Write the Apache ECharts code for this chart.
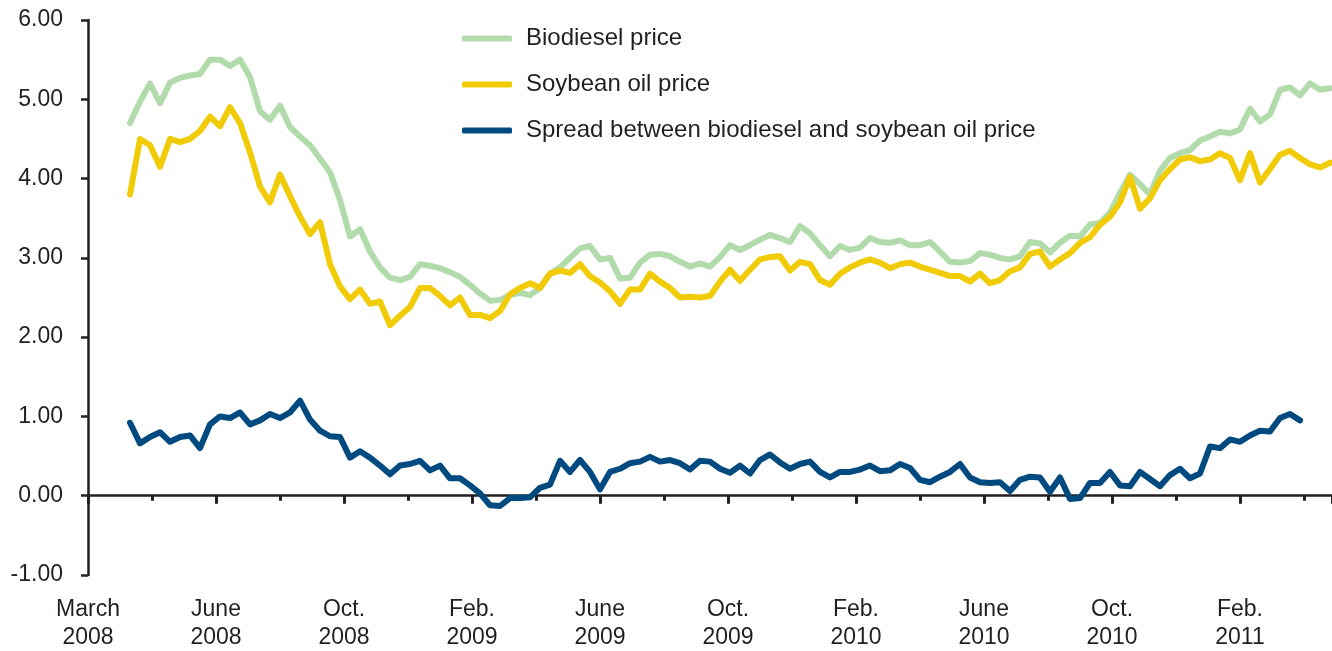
<!DOCTYPE html>
<html>
<head>
<meta charset="utf-8">
<script src="https://cdn.jsdelivr.net/npm/echarts@6/dist/echarts.min.js"></script>
<style>
  html, body { margin: 0; padding: 0; background: #fff; }
  #container { width: 1332px; height: 651px; }
</style>
</head>
<body>
<div id="container"></div>
<script>
// x positions are months after the axis origin (labelled March 2008), one sample every ~9.5 days
var sampleStart = 1.3125
var sampleStep = 0.3125

// dollars per gallon
var biodiesel = [
    4.70, 4.97, 5.20, 4.95, 5.21, 5.27, 5.30, 5.32, 5.50, 5.50,
    5.42, 5.50, 5.28, 4.85, 4.74, 4.92, 4.65, 4.53, 4.42, 4.25,
    4.08, 3.73, 3.27, 3.36, 3.08, 2.88, 2.75, 2.72, 2.76, 2.92,
    2.90, 2.87, 2.82, 2.76, 2.66, 2.55, 2.46, 2.47, 2.53, 2.56,
    2.53, 2.62, 2.80, 2.88, 3.00, 3.12, 3.15, 2.98, 3.00, 2.74,
    2.75, 2.94, 3.04, 3.05, 3.02, 2.95, 2.89, 2.93, 2.89, 3.01,
    3.16, 3.10, 3.16, 3.23, 3.29, 3.25, 3.20, 3.40, 3.31, 3.16,
    3.02, 3.15, 3.10, 3.13, 3.25, 3.20, 3.19, 3.22, 3.16, 3.16,
    3.20, 3.08, 2.95, 2.94, 2.96, 3.06, 3.04, 3.00, 2.98, 3.02,
    3.20, 3.18, 3.07, 3.19, 3.28, 3.27, 3.42, 3.44, 3.57, 3.82,
    4.05, 3.93, 3.80, 4.10, 4.26, 4.32, 4.36, 4.48, 4.53, 4.59,
    4.57, 4.62, 4.88, 4.72, 4.81, 5.12, 5.15, 5.05, 5.20, 5.12,
    5.14,
]

var soybean = [
    3.80, 4.50, 4.42, 4.15, 4.50, 4.46, 4.50, 4.60, 4.78, 4.66,
    4.90, 4.70, 4.33, 3.90, 3.70, 4.05, 3.78, 3.52, 3.30, 3.45,
    2.92, 2.64, 2.48, 2.60, 2.42, 2.45, 2.15, 2.27, 2.38, 2.62,
    2.62, 2.52, 2.40, 2.50, 2.28, 2.28, 2.24, 2.33, 2.54, 2.62,
    2.68, 2.62, 2.80, 2.84, 2.81, 2.92, 2.77, 2.69, 2.58, 2.42,
    2.60, 2.60, 2.80, 2.70, 2.62, 2.50, 2.51, 2.50, 2.52, 2.70,
    2.85, 2.71, 2.85, 2.98, 3.01, 3.02, 2.84, 2.95, 2.92, 2.72,
    2.66, 2.80, 2.88, 2.94, 2.98, 2.94, 2.87, 2.92, 2.94, 2.89,
    2.85, 2.81, 2.77, 2.77, 2.70, 2.80, 2.68, 2.72, 2.83, 2.88,
    3.05, 3.08, 2.89, 2.98, 3.06, 3.19, 3.26, 3.42, 3.52, 3.70,
    4.02, 3.62, 3.75, 3.98, 4.12, 4.24, 4.27, 4.22, 4.24, 4.32,
    4.26, 3.98, 4.32, 3.95, 4.12, 4.30, 4.35, 4.26, 4.18, 4.14,
    4.20,
]

var spread = [
    0.92, 0.66, 0.74, 0.80, 0.68, 0.74, 0.76, 0.60, 0.90, 1.00,
    0.98, 1.05, 0.90, 0.95, 1.03, 0.98, 1.05, 1.20, 0.96, 0.82,
    0.75, 0.74, 0.48, 0.56, 0.48, 0.38, 0.27, 0.38, 0.40, 0.44,
    0.32, 0.38, 0.22, 0.22, 0.13, 0.03, -0.12, -0.13, -0.03, -0.03,
    -0.02, 0.10, 0.14, 0.44, 0.30, 0.45, 0.30, 0.08, 0.30, 0.34,
    0.41, 0.43, 0.49, 0.43, 0.45, 0.41, 0.33, 0.44, 0.43, 0.34,
    0.29, 0.38, 0.28, 0.45, 0.52, 0.42, 0.34, 0.40, 0.43, 0.30,
    0.23, 0.30, 0.30, 0.33, 0.38, 0.31, 0.32, 0.40, 0.35, 0.20,
    0.17, 0.24, 0.30, 0.40, 0.23, 0.17, 0.16, 0.17, 0.06, 0.20,
    0.24, 0.23, 0.05, 0.23, -0.04, -0.03, 0.16, 0.16, 0.30, 0.13,
    0.12, 0.30, 0.21, 0.12, 0.26, 0.34, 0.22, 0.28, 0.62, 0.60,
    0.71, 0.68, 0.76, 0.82, 0.81, 0.98, 1.03, 0.95,
]

var seriesNames = [
    'Biodiesel price',
    'Soybean oil price',
    'Spread between biodiesel and soybean oil price',
]

// one label every 4 months, starting at the axis origin
var monthLabels = [
    'March\n2008', 'June\n2008', 'Oct.\n2008', 'Feb.\n2009', 'June\n2009',
    'Oct.\n2009', 'Feb.\n2010', 'June\n2010', 'Oct.\n2010', 'Feb.\n2011',
]

var toPoints = function (values) {
    var res = []
    for (var i = 0; i < values.length; i++) {
        res.push([sampleStart + i * sampleStep, values[i]])
    }
    return res
}

var chartInit = function () {
    var dom = document.getElementById('container')
    var myChart = echarts.init(dom, null, { renderer: 'canvas' })

    var ink = '#231f20'
    var font = "'Liberation Sans', Arial, Helvetica, sans-serif"

    var option = {
        animation: false,
        textStyle: { fontFamily: font, color: ink },
        grid: {
            left: 88, right: 0, top: 20, bottom: 76,
            containLabel: false,
            outerBoundsMode: 'none',
        },
        legend: {
            orient: 'vertical',
            left: 457,
            top: 21,
            itemWidth: 50,
            itemHeight: 6,
            itemGap: 21,
            icon: 'roundRect',
            textStyle: {
                fontFamily: font,
                fontSize: 24,
                lineHeight: 25,
                color: ink,
                padding: [0, 0, 0, 9],
            },
            data: seriesNames,
        },
        xAxis: [
            {
                // axis line at zero with the ticks
                type: 'value',
                min: 0,
                max: 38.875,
                interval: 4,
                axisLine: { show: true, onZero: true, lineStyle: { color: ink, width: 2.5 } },
                axisTick: { show: true, length: 8, lineStyle: { color: ink, width: 3 } },
                minorTick: { show: true, splitNumber: 2, length: 5, lineStyle: { color: ink, width: 3 } },
                axisLabel: { show: false },
                splitLine: { show: false },
                minorSplitLine: { show: false },
            },
            {
                // labels only, at the bottom of the plot
                type: 'value',
                position: 'bottom',
                min: 0,
                max: 38.875,
                interval: 4,
                axisLine: { show: false, onZero: false },
                axisTick: { show: false },
                splitLine: { show: false },
                axisLabel: {
                    show: true,
                    margin: 21,
                    fontFamily: font,
                    fontSize: 23,
                    lineHeight: 28,
                    color: ink,
                    showMaxLabel: false,
                    formatter: function (val) {
                        var idx = Math.round(val / 4)
                        if (Math.abs(val - idx * 4) > 0.01) {
                            return ''
                        }
                        return monthLabels[idx] || ''
                    },
                },
            },
        ],
        yAxis: {
            type: 'value',
            min: -1,
            max: 6,
            interval: 1,
            axisLine: { show: true, onZero: false, lineStyle: { color: ink, width: 2.5 } },
            axisTick: { show: true, length: 7, lineStyle: { color: ink, width: 2.5 } },
            splitLine: { show: false },
            axisLabel: {
                margin: 25,
                fontFamily: font,
                fontSize: 23,
                color: ink,
                formatter: function (v) {
                    return v.toFixed(2)
                },
            },
        },
        series: [
            {
                name: seriesNames[0],
                type: 'line',
                xAxisIndex: 0,
                showSymbol: false,
                symbol: 'none',
                data: toPoints(biodiesel),
                itemStyle: { color: '#b2dbab' },
                lineStyle: { color: '#b2dbab', width: 6, join: 'round', cap: 'round' },
                z: 2,
            },
            {
                name: seriesNames[1],
                type: 'line',
                xAxisIndex: 0,
                showSymbol: false,
                symbol: 'none',
                data: toPoints(soybean),
                itemStyle: { color: '#f2cb07' },
                lineStyle: { color: '#f2cb07', width: 6, join: 'round', cap: 'round' },
                z: 3,
            },
            {
                name: seriesNames[2],
                type: 'line',
                xAxisIndex: 0,
                showSymbol: false,
                symbol: 'none',
                data: toPoints(spread),
                itemStyle: { color: '#004a80' },
                lineStyle: { color: '#004a80', width: 6, join: 'round', cap: 'round' },
                z: 4,
            },
        ],
    }

    myChart.setOption(option, true)
}

chartInit()
</script>
</body>
</html>
